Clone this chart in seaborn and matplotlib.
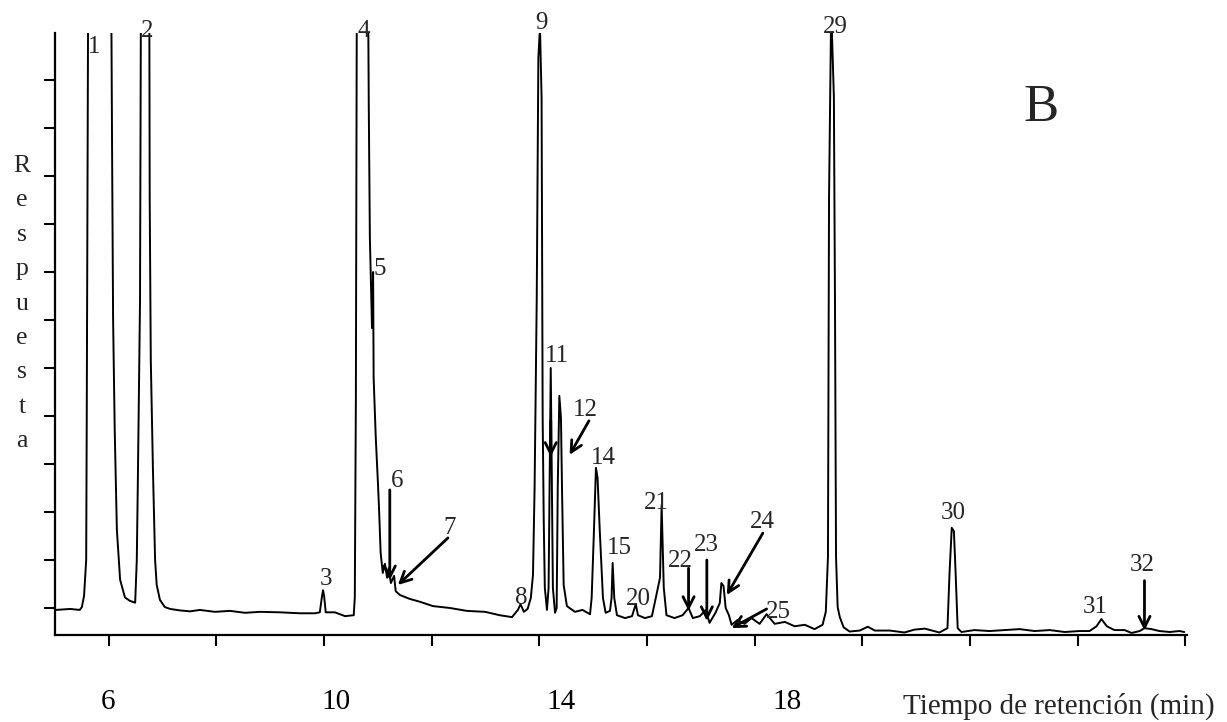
import matplotlib
matplotlib.use("Agg")
import matplotlib.pyplot as plt
import pandas as pd
import seaborn as sns

# chromatogram trace (min, relative response)
retention_time = [
    5.02, 5.28, 5.46, 5.50, 5.54, 5.58, 5.59, 5.62, 6.04, 6.06, 6.08, 6.11, 6.15, 6.21, 6.30,
    6.39, 6.49, 6.52, 6.54, 6.58, 6.60, 6.75, 6.76, 6.78, 6.82, 6.86, 6.89, 6.95, 7.04, 7.14,
    7.32, 7.51, 7.69, 7.97, 8.25, 8.53, 8.81, 9.18, 9.55, 9.83, 9.92, 9.96, 9.98, 10.00, 10.03,
    10.20, 10.39, 10.55, 10.57, 10.59, 10.61, 10.81, 10.83, 10.85, 10.89, 10.91, 10.92, 10.96,
    11.00, 11.02, 11.05, 11.09, 11.13, 11.17, 11.20, 11.24, 11.30, 11.33, 11.41, 11.59, 11.78,
    12.02, 12.34, 12.65, 12.99, 13.26, 13.49, 13.60, 13.65, 13.71, 13.78, 13.84, 13.88, 13.91,
    13.95, 13.98, 14.01, 14.04, 14.06, 14.08, 14.10, 14.14, 14.17, 14.21, 14.25, 14.29, 14.32,
    14.34, 14.37, 14.40, 14.42, 14.45, 14.51, 14.66, 14.80, 14.94, 14.97, 15.01, 15.05, 15.08,
    15.12, 15.18, 15.23, 15.31, 15.34, 15.36, 15.39, 15.44, 15.59, 15.72, 15.79, 15.83, 15.96,
    16.09, 16.20, 16.24, 16.27, 16.31, 16.36, 16.51, 16.66, 16.77, 16.85, 16.98, 17.09, 17.16,
    17.27, 17.35, 17.38, 17.42, 17.46, 17.52, 17.57, 17.68, 17.81, 17.94, 18.09, 18.22, 18.37,
    18.56, 18.74, 18.93, 19.11, 19.26, 19.32, 19.36, 19.38, 19.42, 19.47, 19.49, 19.51, 19.54,
    19.58, 19.65, 19.76, 19.95, 20.10, 20.23, 20.51, 20.78, 20.97, 21.16, 21.43, 21.58, 21.62,
    21.66, 21.70, 21.73, 21.77, 21.84, 22.08, 22.36, 22.64, 22.92, 23.20, 23.48, 23.76, 24.03,
    24.22, 24.35, 24.44, 24.54, 24.68, 24.87, 25.00, 25.15, 25.24, 25.37, 25.52, 25.71, 25.89,
    25.98,
]
response = [
    -0.04, -0.02, -0.04, 0.02, 0.25, 1.0, 3.9, 14, 14, 9.75, 6.0, 3.7, 1.63, 0.59, 0.22,
    0.15, 0.11, 1.0, 2.67, 6.4, 14, 14, 8.5, 5.17, 2.88, 1.0, 0.48, 0.17, 0.02, -0.02,
    -0.05, -0.07, -0.04, -0.08, -0.06, -0.10, -0.08, -0.09, -0.11, -0.11, -0.09, 0.24, 0.37, 0.25, -0.09,
    -0.09, -0.17, -0.15, 0.21, 4.38, 14, 14, 10.42, 7.71, 5.83, 7.0, 4.79, 3.54,
    2.60, 2.08, 1.15, 0.73, 0.92, 0.63, 0.83, 0.52, 0.67, 0.35, 0.27, 0.19, 0.13,
    0.04, 0.0, -0.06, -0.08, -0.15, -0.19, -0.04, 0.08, -0.08, -0.02, 0.21, 0.69, 2.50,
    6.46, 11.46, 12.1, 10.63, 3.96, 1.81, 0.42, -0.04, 0.42, 5.0, 0.42, -0.10, 0.0,
    2.50, 4.42, 3.96, 2.44, 0.48, 0.04, -0.08, -0.04, -0.13, 0.21, 1.52, 2.92, 2.71,
    1.63, 0.21, -0.10, -0.06, 0.21, 0.94, 0.21, -0.15, -0.21, -0.17, 0.08, -0.15, -0.21,
    -0.17, 0.42, 0.63, 2.15, 0.42, -0.15, -0.21, -0.15, 0.0, -0.21, -0.17, -0.04, -0.31,
    -0.10, 0.10, 0.52, 0.46, 0.0, -0.15, -0.35, -0.25, -0.33, -0.21, -0.33, -0.13, -0.33,
    -0.29, -0.38, -0.35, -0.44, -0.35, -0.08, 1.06, 8.56, 12.5, 10.65, 6.48, 1.06, 0.02,
    -0.19, -0.40, -0.49, -0.47, -0.39, -0.47, -0.47, -0.51, -0.45, -0.43, -0.51, -0.42, 0.77,
    1.67, 1.60, 0.77, -0.42, -0.50, -0.46, -0.48, -0.46, -0.44, -0.48, -0.46, -0.50, -0.48,
    -0.48, -0.38, -0.23, -0.38, -0.46, -0.46, -0.52, -0.48, -0.42, -0.44, -0.48, -0.50, -0.48,
    -0.50,
]

# peak numbers and where they are written
peak_ids = ["1", "2", "3", "4", "5", "6", "7", "8", "9", "11", "12", "14", "15", "20",
            "21", "22", "23", "24", "25", "29", "30", "31", "32"]
peak_label_t = [5.72, 6.71, 10.03, 10.74, 11.04, 11.35, 12.34, 13.67, 14.03, 14.32, 14.86,
                15.18, 15.49, 15.83, 16.18, 16.61, 17.11, 18.15, 18.43, 19.49, 21.68, 24.33, 25.19]
peak_label_y = [11.69, 12.02, 0.60, 12.02, 7.06, 2.65, 1.67, 0.21, 12.19, 5.25, 4.12,
                3.12, 1.25, 0.19, 2.19, 0.98, 1.31, 1.79, -0.08, 12.10, 1.98, 0.03, 0.89]

# arrows: (start t, start y, end t, end y)
arrow_t0 = [11.22, 12.30, 14.21, 14.92, 16.77, 17.11, 18.15, 18.22, 25.24]
arrow_y0 = [2.46, 1.46, 3.90, 3.90, 0.83, 1.00, 1.56, -0.02, 0.57]
arrow_t1 = [11.22, 11.37, 14.21, 14.56, 16.77, 17.11, 17.48, 17.57, 25.24]
arrow_y1 = [0.58, 0.48, 3.15, 3.19, -0.06, -0.27, 0.27, -0.42, -0.47]

# tick marks every 2 min; the printed numbers sit a little apart from them
x_ticks = [6, 8, 10, 12, 14, 16, 18, 20, 22, 24, 26]
x_label_pos = [5.98, 10.23, 14.40, 18.60]
x_labels = ["6", "10", "14", "18"]

sns.set_style("ticks")
plt.rcParams["font.family"] = ["Liberation Serif", "DejaVu Serif"]

fig = plt.figure(figsize=(12.27, 7.22), dpi=100)
ax = fig.add_axes([0.0448, 0.1205, 0.9226, 0.8338])

df = pd.DataFrame({"t": retention_time, "r": response})
sns.lineplot(data=df, x="t", y="r", estimator=None, sort=False, color="black",
             linewidth=1.4, ax=ax)

ax.set_xlim(5.0, 26.03)
ax.set_ylim(-0.5625, 11.98)
ax.set_xticks(x_ticks)
ax.set_xticklabels([])
ax.set_xticks(x_label_pos, labels=x_labels, minor=True)
ax.set_yticks(range(0, 12))
ax.set_yticklabels([])
ax.set_xlabel("")
ax.set_ylabel("")
ax.tick_params(axis="x", which="major", length=8, width=1.5, colors="black")
ax.tick_params(axis="x", which="minor", length=0, pad=39, labelsize=21, colors="black")
ax.tick_params(axis="y", length=8, width=1.5, colors="black")
sns.despine(ax=ax)
for s in ("left", "bottom"):
    ax.spines[s].set_linewidth(1.6)
    ax.spines[s].set_color("black")

for lab, t, y in zip(peak_ids, peak_label_t, peak_label_y):
    ax.text(t, y, lab, ha="center", va="center", fontsize=18, clip_on=False)

for t0, y0, t1, y1 in zip(arrow_t0, arrow_y0, arrow_t1, arrow_y1):
    ax.annotate("", xy=(t1, y1), xytext=(t0, y0),
                arrowprops=dict(arrowstyle="->", color="black", lw=2.0,
                                mutation_scale=20, shrinkA=0, shrinkB=0))

ax.text(23.31, 10.42, "B", ha="center", va="center", fontsize=38)

fig.text(0.990, 0.012, "Tiempo de retención (min)", ha="right", va="baseline", fontsize=21)

for i, ch in enumerate("Respuesta"):
    fig.text(22 / 1227, (722 - (172 + 34.4 * i)) / 722, ch, ha="center",
             va="baseline", fontsize=18.5)

fig.savefig("out.png", dpi=100)
